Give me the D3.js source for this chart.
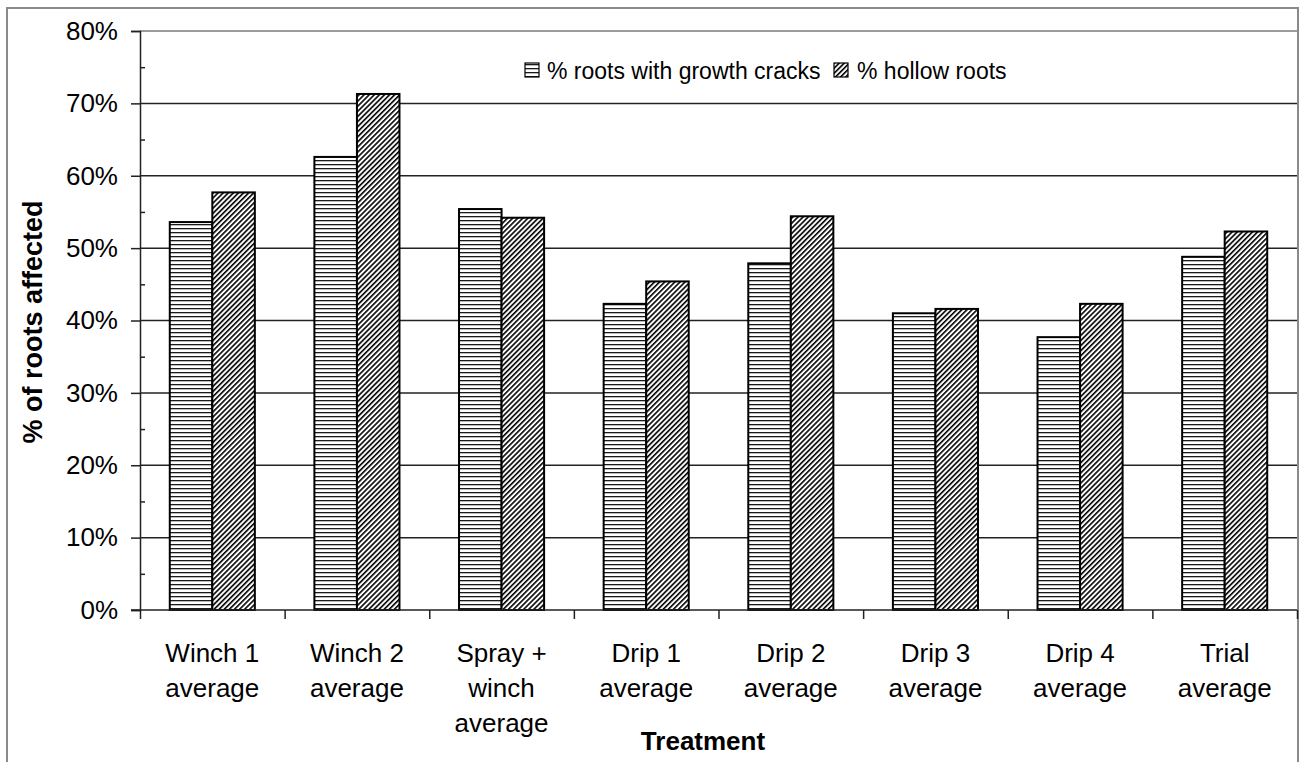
<!DOCTYPE html>
<html>
<head>
<meta charset="utf-8">
<script src="https://cdn.jsdelivr.net/npm/d3@7"></script>
<style>
  body { margin: 0; background: #fff; }
  svg { display: block; }
  text { font-family: "Liberation Sans", Arial, sans-serif; fill: #000; }
</style>
</head>
<body>
<svg id="chart" width="1302" height="762"></svg>
<script>
// Treatment categories (each entry holds the lines of its axis label)
const categories = [
  ["Winch 1", "average"],
  ["Winch 2", "average"],
  ["Spray +", "winch", "average"],
  ["Drip 1", "average"],
  ["Drip 2", "average"],
  ["Drip 3", "average"],
  ["Drip 4", "average"],
  ["Trial", "average"]
];
const seriesNames = ["% roots with growth cracks", "% hollow roots"];
// Percent of roots affected, per treatment
const growthCracks = [53.6, 62.6, 55.4, 42.3, 47.9, 41.0, 37.7, 48.8];
const hollowRoots  = [57.7, 71.3, 54.2, 45.4, 54.4, 41.6, 42.3, 52.3];
const yTicks = [0, 10, 20, 30, 40, 50, 60, 70, 80];
const yMinorTicks = [5, 15, 25, 35, 45, 55, 65, 75];

const svg = d3.select("#chart");
const plot = { left: 140, right: 1297, top: 31, bottom: 610 };

// Chart frame
svg.append("path")
  .attr("d", "M7,770 V8 H1298 V770")
  .attr("fill", "none")
  .attr("stroke", "#8a8a8a")
  .attr("stroke-width", 2);

// Fill patterns
const defs = svg.append("defs");
const hp = defs.append("pattern")
  .attr("id", "hatch-horizontal")
  .attr("patternUnits", "userSpaceOnUse")
  .attr("width", 8).attr("height", 4);
hp.append("rect").attr("width", 8).attr("height", 4).attr("fill", "#fff");
hp.append("rect").attr("y", 0).attr("width", 8).attr("height", 1.3).attr("fill", "#1a1a1a");

const dp = defs.append("pattern")
  .attr("id", "hatch-diagonal")
  .attr("patternUnits", "userSpaceOnUse")
  .attr("width", 3.6).attr("height", 8)
  .attr("patternTransform", "rotate(45)");
dp.append("rect").attr("width", 3.6).attr("height", 8).attr("fill", "#fff");
dp.append("rect").attr("x", 0).attr("width", 1.6).attr("height", 8).attr("fill", "#000");

const fills = ["url(#hatch-horizontal)", "url(#hatch-diagonal)"];

// Scales
const x = d3.scaleBand()
  .domain(d3.range(categories.length))
  .range([plot.left, plot.right])
  .paddingInner(0).paddingOuter(0);
const xSub = d3.scaleBand()
  .domain([0, 1])
  .range([0, x.bandwidth()])
  .paddingInner(0).paddingOuter(0.7);
const xEdge = d3.scaleLinear()
  .domain([0, categories.length])
  .range([plot.left, plot.right]);
const y = d3.scaleLinear().domain([0, 80]).range([plot.bottom, plot.top]);

// Gridlines
svg.append("g")
  .selectAll("line")
  .data(yTicks.filter(d => d > 0))
  .join("line")
  .attr("x1", plot.left).attr("x2", plot.right)
  .attr("y1", d => y(d)).attr("y2", d => y(d))
  .attr("stroke", d => d === 80 ? "#7a7a7a" : "#222")
  .attr("stroke-width", 1.5);

// Bars
const rows = categories.map((c, i) => ({ i, values: [growthCracks[i], hollowRoots[i]] }));
const groups = svg.append("g").selectAll("g")
  .data(rows)
  .join("g")
  .attr("transform", d => `translate(${x(d.i)},0)`);
groups.selectAll("rect")
  .data(d => d.values.map((v, s) => ({ v, s })))
  .join("rect")
  .attr("x", d => xSub(d.s))
  .attr("width", xSub.bandwidth())
  .attr("y", d => y(d.v))
  .attr("height", d => y(0) - y(d.v))
  .attr("fill", d => fills[d.s])
  .attr("stroke", "#000")
  .attr("stroke-width", 2);

// Y axis with major ticks and labels
const yAxis = svg.append("g")
  .attr("transform", `translate(${plot.left},0)`)
  .call(d3.axisLeft(y).tickValues(yTicks).tickSize(9).tickPadding(13).tickFormat(d => d + "%"));
yAxis.select(".domain").attr("stroke", "#222").attr("stroke-width", 1.5);
yAxis.selectAll(".tick line").attr("stroke", "#222").attr("stroke-width", 1.5);
yAxis.selectAll(".tick text")
  .style("font-size", "26px")
  .style("font-family", "'Liberation Sans', Arial, sans-serif")
  .attr("fill", "#000");

// Minor ticks pointing into the plot
const yMinor = svg.append("g")
  .attr("transform", `translate(${plot.left},0)`)
  .call(d3.axisRight(y).tickValues(yMinorTicks).tickSize(5).tickFormat(""));
yMinor.select(".domain").remove();
yMinor.selectAll(".tick line").attr("stroke", "#222").attr("stroke-width", 1.5);

// X axis with ticks at category boundaries
const xAxis = svg.append("g")
  .attr("transform", `translate(0,${plot.bottom})`)
  .call(d3.axisBottom(xEdge).tickValues(d3.range(categories.length + 1)).tickSize(9).tickFormat(""));
xAxis.select(".domain").attr("stroke", "#222").attr("stroke-width", 1.5)
  .attr("d", `M${plot.left - 9},0H${plot.right}`);
xAxis.selectAll(".tick line").attr("stroke", "#222").attr("stroke-width", 1.5);

// Category labels
const labelBaselines = [662, 697, 731.5];
svg.append("g").selectAll("text")
  .data(categories)
  .join("text")
  .attr("text-anchor", "middle")
  .style("font-size", "26px")
  .each(function (lines, i) {
    d3.select(this).selectAll("tspan")
      .data(lines)
      .join("tspan")
      .attr("x", x(i) + x.bandwidth() / 2)
      .attr("y", (d, k) => labelBaselines[k])
      .text(d => d);
  });

// Axis titles
svg.append("text")
  .attr("x", 703).attr("y", 750)
  .attr("text-anchor", "middle")
  .style("font-size", "26px")
  .style("font-weight", "bold")
  .text("Treatment");
svg.append("text")
  .attr("transform", "translate(42,322) rotate(-90)")
  .attr("text-anchor", "middle")
  .style("font-size", "27px")
  .style("font-weight", "bold")
  .text("% of roots affected");

// Legend
const legendItems = [
  { name: seriesNames[0], fill: fills[0], box: 525, text: 547 },
  { name: seriesNames[1], fill: fills[1], box: 834, text: 857 }
];
const legend = svg.append("g");
legend.selectAll("rect")
  .data(legendItems)
  .join("rect")
  .attr("x", d => d.box).attr("y", 63)
  .attr("width", 14).attr("height", 14)
  .attr("fill", d => d.fill)
  .attr("stroke", "#000").attr("stroke-width", 1.2);
legend.selectAll("text")
  .data(legendItems)
  .join("text")
  .attr("x", d => d.text).attr("y", 79)
  .style("font-size", "23px")
  .text(d => d.name);
</script>
</body>
</html>
